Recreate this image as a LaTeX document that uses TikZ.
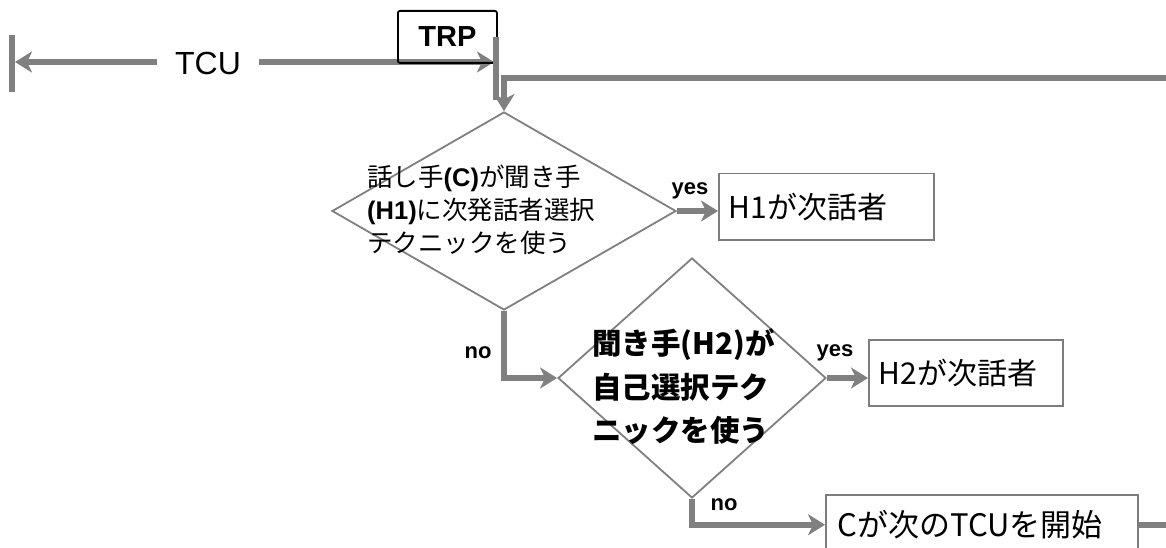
\documentclass[tikz,border=0pt]{standalone}
\usepackage{fontspec}
\setmainfont{Liberation Sans}
\newfontfamily\cjk{Noto Sans CJK JP}
\usetikzlibrary{arrows.meta,shapes.geometric}
\definecolor{linegray}{RGB}{128,128,128}
\definecolor{boxgray}{RGB}{125,125,125}
\begin{document}
\begin{tikzpicture}[x=1pt,y=-1pt,
  conn/.style={draw=linegray, line width=5.5pt},
  arr/.style={conn, -{Stealth[length=17pt,width=21pt,inset=5pt]}},
  dia/.style={diamond, draw=linegray, line width=1.8pt, inner sep=0pt, fill=none},
  box/.style={draw=boxgray, line width=1.5pt, fill=white, inner xsep=10pt, inner ysep=0pt, align=left, anchor=north west},
  lab/.style={font=\fontsize{22}{22}\selectfont\bfseries, inner sep=0pt}]
\useasboundingbox (0,0) rectangle (1166,548);
\clip (0,0) rectangle (1166,548);
\fill[white] (0,0) rectangle (1166,548);

% TCU line with ticks
\coordinate (tl1) at (12,35);
\coordinate (tl2) at (12,92);
\coordinate (tr1) at (496,37);
\coordinate (tr2) at (496,100);
\coordinate (la) at (15,62);
\coordinate (ra) at (494,62);
\draw[conn] (tl1) -- (tl2);
\draw[conn,{Stealth[length=17pt,width=21pt,inset=5pt]}-{Stealth[length=17pt,width=21pt,inset=5pt]}] (la) -- (ra);
\node[fill=white, font=\fontsize{32}{32}\selectfont, inner xsep=18pt, inner ysep=4pt] (tcu) at (208,63) {TCU};
\node[draw=black, line width=1.8pt, rounded corners=2pt, minimum width=99pt, minimum height=52pt, inner sep=0pt,
      font=\bfseries\fontsize{29}{29}\selectfont, anchor=north west] (trp) at (397,10) {TRP};
\draw[conn] (tr1) -- (tr2);

% diamonds
\node[dia, minimum width=344pt, minimum height=198pt] (d1) at (504,211) {};
\node[dia, minimum width=268pt, minimum height=240pt] (d2) at (692,378) {};

\node[anchor=west, align=left, font=\cjk\fontsize{25.5}{33}\selectfont, inner sep=0pt] (t1) at (367,210)
  {話し手\textbf{\rmfamily(C)}が聞き手\\\textbf{\rmfamily(H1)}に次発話者選択\\テクニックを使う};
\node[anchor=west, align=left, font=\cjk\bfseries\fontsize{29.5}{43.5}\selectfont, inner sep=0pt] (t2) at (592,387)
  {聞き手(H2)が\\自己選択テク\\ニックを使う};

% boxes
\node[box, minimum width=215pt, minimum height=66pt, text width=195pt, font=\cjk\fontsize{30}{30}\selectfont] (b1) at (718,173) {H1が次話者};
\node[box, minimum width=194pt, minimum height=66pt, text width=174pt, font=\cjk\fontsize{30}{30}\selectfont] (b2) at (868,339) {H2が次話者};
\node[box, minimum width=312pt, minimum height=60pt, text width=288pt, inner xsep=12pt, font=\cjk\fontsize{31}{31}\selectfont] (b3) at (825,494) {Cが次のTCUを開始};

% loop back line
\coordinate (rt) at (1172,78);
\coordinate (rb) at (1172,524);
\draw[arr] (rt) -- (rt -| d1.north) -- (d1.north);
\draw[conn] (b3.east) -- (b3.east -| rb);

% connectors
\draw[arr] (d1.east) -- (d1.east -| b1.west);
\draw[arr] (d1.south) |- (d2.west);
\draw[arr] (d2.east) -- (d2.east -| b2.west);
\draw[arr] (d2.south) |- (b3.west);

% labels
\node[lab] (y1) at (690,191) {yes};
\node[lab] (n1) at (478,353) {no};
\node[lab] (y2) at (835,353) {yes};
\node[lab] (n2) at (724,505) {no};
\end{tikzpicture}
\end{document}
